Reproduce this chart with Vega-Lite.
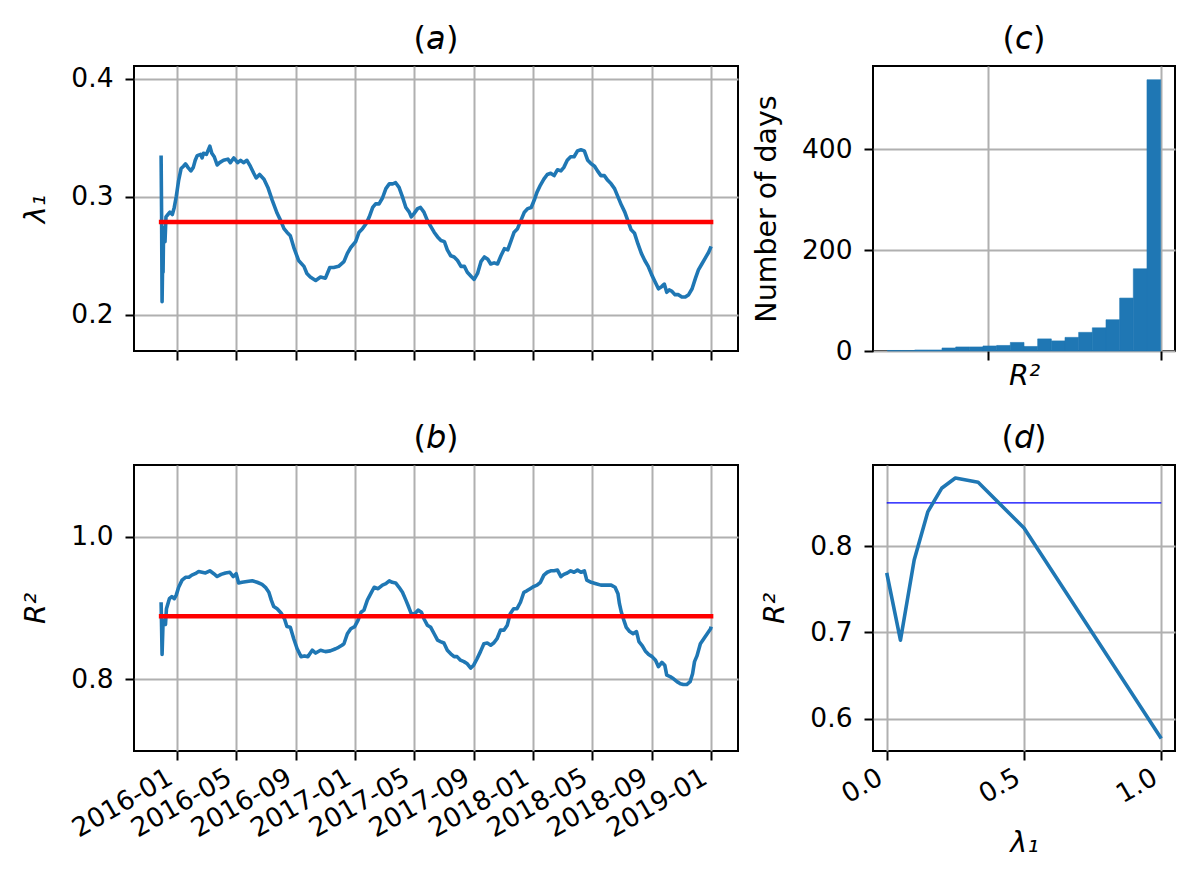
{
  "$schema": "https://vega.github.io/schema/vega-lite/v6.json",
  "padding": {"left": 20, "top": 21, "right": 5, "bottom": 5},
  "background": "white",
  "datasets": {
    "lam": [
      {"date": "2015-11-30", "value": 0.335},
      {"date": "2015-12-01", "value": 0.285},
      {"date": "2015-12-02", "value": 0.211},
      {"date": "2015-12-03", "value": 0.240},
      {"date": "2015-12-04", "value": 0.236},
      {"date": "2015-12-05", "value": 0.268},
      {"date": "2015-12-07", "value": 0.274},
      {"date": "2015-12-08", "value": 0.262},
      {"date": "2015-12-10", "value": 0.283},
      {"date": "2015-12-14", "value": 0.285},
      {"date": "2015-12-18", "value": 0.287},
      {"date": "2015-12-23", "value": 0.285},
      {"date": "2015-12-27", "value": 0.291},
      {"date": "2015-12-31", "value": 0.300},
      {"date": "2016-01-05", "value": 0.314},
      {"date": "2016-01-10", "value": 0.324},
      {"date": "2016-01-15", "value": 0.326},
      {"date": "2016-01-19", "value": 0.328},
      {"date": "2016-01-24", "value": 0.325},
      {"date": "2016-01-30", "value": 0.322},
      {"date": "2016-02-04", "value": 0.325},
      {"date": "2016-02-08", "value": 0.331},
      {"date": "2016-02-12", "value": 0.335},
      {"date": "2016-02-19", "value": 0.336},
      {"date": "2016-02-22", "value": 0.333},
      {"date": "2016-02-25", "value": 0.337},
      {"date": "2016-03-02", "value": 0.336},
      {"date": "2016-03-09", "value": 0.343},
      {"date": "2016-03-13", "value": 0.337},
      {"date": "2016-03-18", "value": 0.334},
      {"date": "2016-03-24", "value": 0.327},
      {"date": "2016-03-29", "value": 0.329},
      {"date": "2016-04-06", "value": 0.331},
      {"date": "2016-04-15", "value": 0.332},
      {"date": "2016-04-20", "value": 0.329},
      {"date": "2016-04-27", "value": 0.333},
      {"date": "2016-05-05", "value": 0.329},
      {"date": "2016-05-11", "value": 0.331},
      {"date": "2016-05-17", "value": 0.329},
      {"date": "2016-05-24", "value": 0.331},
      {"date": "2016-05-31", "value": 0.326},
      {"date": "2016-06-07", "value": 0.320},
      {"date": "2016-06-12", "value": 0.316},
      {"date": "2016-06-19", "value": 0.319},
      {"date": "2016-06-28", "value": 0.315},
      {"date": "2016-07-06", "value": 0.308},
      {"date": "2016-07-15", "value": 0.297},
      {"date": "2016-07-25", "value": 0.286},
      {"date": "2016-08-01", "value": 0.280},
      {"date": "2016-08-08", "value": 0.273},
      {"date": "2016-08-14", "value": 0.270},
      {"date": "2016-08-21", "value": 0.267},
      {"date": "2016-08-29", "value": 0.256},
      {"date": "2016-09-07", "value": 0.246},
      {"date": "2016-09-18", "value": 0.241},
      {"date": "2016-09-24", "value": 0.235},
      {"date": "2016-10-01", "value": 0.232},
      {"date": "2016-10-12", "value": 0.229},
      {"date": "2016-10-22", "value": 0.232},
      {"date": "2016-11-01", "value": 0.231},
      {"date": "2016-11-10", "value": 0.240},
      {"date": "2016-11-18", "value": 0.240},
      {"date": "2016-11-28", "value": 0.241},
      {"date": "2016-12-09", "value": 0.245},
      {"date": "2016-12-16", "value": 0.252},
      {"date": "2016-12-23", "value": 0.257},
      {"date": "2017-01-02", "value": 0.262},
      {"date": "2017-01-09", "value": 0.270},
      {"date": "2017-01-16", "value": 0.273},
      {"date": "2017-01-23", "value": 0.277},
      {"date": "2017-01-30", "value": 0.283},
      {"date": "2017-02-06", "value": 0.291},
      {"date": "2017-02-12", "value": 0.294},
      {"date": "2017-02-19", "value": 0.294},
      {"date": "2017-02-26", "value": 0.299},
      {"date": "2017-03-05", "value": 0.307},
      {"date": "2017-03-12", "value": 0.311},
      {"date": "2017-03-19", "value": 0.311},
      {"date": "2017-03-25", "value": 0.312},
      {"date": "2017-04-01", "value": 0.308},
      {"date": "2017-04-08", "value": 0.300},
      {"date": "2017-04-15", "value": 0.291},
      {"date": "2017-04-22", "value": 0.287},
      {"date": "2017-04-26", "value": 0.283},
      {"date": "2017-05-02", "value": 0.286},
      {"date": "2017-05-09", "value": 0.290},
      {"date": "2017-05-15", "value": 0.291},
      {"date": "2017-05-22", "value": 0.287},
      {"date": "2017-05-29", "value": 0.280},
      {"date": "2017-06-05", "value": 0.275},
      {"date": "2017-06-12", "value": 0.270},
      {"date": "2017-06-19", "value": 0.266},
      {"date": "2017-06-26", "value": 0.263},
      {"date": "2017-07-03", "value": 0.262},
      {"date": "2017-07-09", "value": 0.255},
      {"date": "2017-07-16", "value": 0.250},
      {"date": "2017-07-23", "value": 0.249},
      {"date": "2017-07-30", "value": 0.246},
      {"date": "2017-08-06", "value": 0.241},
      {"date": "2017-08-13", "value": 0.241},
      {"date": "2017-08-19", "value": 0.236},
      {"date": "2017-08-28", "value": 0.232},
      {"date": "2017-09-02", "value": 0.230},
      {"date": "2017-09-09", "value": 0.235},
      {"date": "2017-09-16", "value": 0.245},
      {"date": "2017-09-23", "value": 0.249},
      {"date": "2017-09-30", "value": 0.247},
      {"date": "2017-10-06", "value": 0.243},
      {"date": "2017-10-13", "value": 0.244},
      {"date": "2017-10-20", "value": 0.243},
      {"date": "2017-10-27", "value": 0.250},
      {"date": "2017-11-03", "value": 0.256},
      {"date": "2017-11-10", "value": 0.255},
      {"date": "2017-11-17", "value": 0.263},
      {"date": "2017-11-23", "value": 0.270},
      {"date": "2017-11-30", "value": 0.273},
      {"date": "2017-12-07", "value": 0.280},
      {"date": "2017-12-14", "value": 0.287},
      {"date": "2017-12-21", "value": 0.290},
      {"date": "2017-12-28", "value": 0.291},
      {"date": "2018-01-04", "value": 0.298},
      {"date": "2018-01-09", "value": 0.304},
      {"date": "2018-01-16", "value": 0.310},
      {"date": "2018-01-23", "value": 0.315},
      {"date": "2018-01-30", "value": 0.319},
      {"date": "2018-02-06", "value": 0.320},
      {"date": "2018-02-13", "value": 0.318},
      {"date": "2018-02-20", "value": 0.323},
      {"date": "2018-02-27", "value": 0.322},
      {"date": "2018-03-05", "value": 0.325},
      {"date": "2018-03-12", "value": 0.331},
      {"date": "2018-03-19", "value": 0.334},
      {"date": "2018-03-26", "value": 0.334},
      {"date": "2018-04-02", "value": 0.339},
      {"date": "2018-04-09", "value": 0.340},
      {"date": "2018-04-16", "value": 0.339},
      {"date": "2018-04-23", "value": 0.331},
      {"date": "2018-04-30", "value": 0.328},
      {"date": "2018-05-07", "value": 0.326},
      {"date": "2018-05-13", "value": 0.322},
      {"date": "2018-05-20", "value": 0.318},
      {"date": "2018-05-27", "value": 0.318},
      {"date": "2018-06-03", "value": 0.314},
      {"date": "2018-06-10", "value": 0.311},
      {"date": "2018-06-17", "value": 0.307},
      {"date": "2018-06-24", "value": 0.300},
      {"date": "2018-07-01", "value": 0.293},
      {"date": "2018-07-08", "value": 0.287},
      {"date": "2018-07-15", "value": 0.279},
      {"date": "2018-07-21", "value": 0.272},
      {"date": "2018-07-28", "value": 0.269},
      {"date": "2018-08-04", "value": 0.260},
      {"date": "2018-08-11", "value": 0.252},
      {"date": "2018-08-18", "value": 0.246},
      {"date": "2018-08-25", "value": 0.241},
      {"date": "2018-09-01", "value": 0.234},
      {"date": "2018-09-08", "value": 0.228},
      {"date": "2018-09-15", "value": 0.222},
      {"date": "2018-09-22", "value": 0.224},
      {"date": "2018-09-27", "value": 0.226},
      {"date": "2018-10-02", "value": 0.219},
      {"date": "2018-10-07", "value": 0.221},
      {"date": "2018-10-12", "value": 0.220},
      {"date": "2018-10-19", "value": 0.217},
      {"date": "2018-10-26", "value": 0.217},
      {"date": "2018-11-02", "value": 0.215},
      {"date": "2018-11-09", "value": 0.215},
      {"date": "2018-11-16", "value": 0.217},
      {"date": "2018-11-23", "value": 0.222},
      {"date": "2018-11-30", "value": 0.231},
      {"date": "2018-12-06", "value": 0.238},
      {"date": "2018-12-13", "value": 0.243},
      {"date": "2018-12-20", "value": 0.248},
      {"date": "2018-12-27", "value": 0.253},
      {"date": "2019-01-01", "value": 0.258}
    ],
    "r2": [
      {"date": "2015-11-30", "value": 0.908},
      {"date": "2015-12-01", "value": 0.873},
      {"date": "2015-12-02", "value": 0.835},
      {"date": "2015-12-04", "value": 0.880},
      {"date": "2015-12-06", "value": 0.883},
      {"date": "2015-12-09", "value": 0.877},
      {"date": "2015-12-11", "value": 0.899},
      {"date": "2015-12-17", "value": 0.913},
      {"date": "2015-12-22", "value": 0.916},
      {"date": "2015-12-27", "value": 0.913},
      {"date": "2015-12-31", "value": 0.918},
      {"date": "2016-01-05", "value": 0.929},
      {"date": "2016-01-12", "value": 0.939},
      {"date": "2016-01-19", "value": 0.943},
      {"date": "2016-01-26", "value": 0.943},
      {"date": "2016-02-01", "value": 0.946},
      {"date": "2016-02-08", "value": 0.948},
      {"date": "2016-02-15", "value": 0.951},
      {"date": "2016-02-22", "value": 0.950},
      {"date": "2016-02-29", "value": 0.949},
      {"date": "2016-03-09", "value": 0.952},
      {"date": "2016-03-17", "value": 0.948},
      {"date": "2016-03-24", "value": 0.944},
      {"date": "2016-04-01", "value": 0.947},
      {"date": "2016-04-10", "value": 0.949},
      {"date": "2016-04-19", "value": 0.950},
      {"date": "2016-04-26", "value": 0.944},
      {"date": "2016-05-02", "value": 0.948},
      {"date": "2016-05-07", "value": 0.935},
      {"date": "2016-05-14", "value": 0.936},
      {"date": "2016-05-24", "value": 0.937},
      {"date": "2016-06-04", "value": 0.938},
      {"date": "2016-06-14", "value": 0.936},
      {"date": "2016-06-24", "value": 0.933},
      {"date": "2016-07-01", "value": 0.929},
      {"date": "2016-07-08", "value": 0.922},
      {"date": "2016-07-13", "value": 0.911},
      {"date": "2016-07-18", "value": 0.902},
      {"date": "2016-07-25", "value": 0.899},
      {"date": "2016-08-02", "value": 0.893},
      {"date": "2016-08-09", "value": 0.885},
      {"date": "2016-08-14", "value": 0.874},
      {"date": "2016-08-21", "value": 0.873},
      {"date": "2016-08-28", "value": 0.857},
      {"date": "2016-09-04", "value": 0.843},
      {"date": "2016-09-12", "value": 0.832},
      {"date": "2016-09-19", "value": 0.833},
      {"date": "2016-09-26", "value": 0.832},
      {"date": "2016-10-05", "value": 0.841},
      {"date": "2016-10-12", "value": 0.837},
      {"date": "2016-10-22", "value": 0.841},
      {"date": "2016-11-01", "value": 0.839},
      {"date": "2016-11-11", "value": 0.840},
      {"date": "2016-11-22", "value": 0.843},
      {"date": "2016-11-28", "value": 0.845},
      {"date": "2016-12-05", "value": 0.848},
      {"date": "2016-12-09", "value": 0.850},
      {"date": "2016-12-16", "value": 0.864},
      {"date": "2016-12-23", "value": 0.871},
      {"date": "2016-12-31", "value": 0.874},
      {"date": "2017-01-07", "value": 0.883},
      {"date": "2017-01-13", "value": 0.894},
      {"date": "2017-01-19", "value": 0.897},
      {"date": "2017-01-26", "value": 0.911},
      {"date": "2017-02-02", "value": 0.920},
      {"date": "2017-02-09", "value": 0.929},
      {"date": "2017-02-17", "value": 0.927},
      {"date": "2017-02-26", "value": 0.932},
      {"date": "2017-03-05", "value": 0.934},
      {"date": "2017-03-12", "value": 0.938},
      {"date": "2017-03-18", "value": 0.936},
      {"date": "2017-03-25", "value": 0.935},
      {"date": "2017-04-01", "value": 0.929},
      {"date": "2017-04-08", "value": 0.922},
      {"date": "2017-04-15", "value": 0.911},
      {"date": "2017-04-21", "value": 0.901},
      {"date": "2017-04-26", "value": 0.892},
      {"date": "2017-05-03", "value": 0.892},
      {"date": "2017-05-10", "value": 0.897},
      {"date": "2017-05-17", "value": 0.894},
      {"date": "2017-05-22", "value": 0.885},
      {"date": "2017-05-29", "value": 0.876},
      {"date": "2017-06-05", "value": 0.873},
      {"date": "2017-06-12", "value": 0.864},
      {"date": "2017-06-19", "value": 0.855},
      {"date": "2017-06-25", "value": 0.853},
      {"date": "2017-07-02", "value": 0.851},
      {"date": "2017-07-09", "value": 0.841},
      {"date": "2017-07-16", "value": 0.836},
      {"date": "2017-07-23", "value": 0.832},
      {"date": "2017-07-29", "value": 0.832},
      {"date": "2017-08-05", "value": 0.827},
      {"date": "2017-08-12", "value": 0.825},
      {"date": "2017-08-19", "value": 0.822},
      {"date": "2017-08-26", "value": 0.816},
      {"date": "2017-09-01", "value": 0.820},
      {"date": "2017-09-08", "value": 0.829},
      {"date": "2017-09-15", "value": 0.839},
      {"date": "2017-09-22", "value": 0.850},
      {"date": "2017-09-29", "value": 0.851},
      {"date": "2017-10-06", "value": 0.848},
      {"date": "2017-10-12", "value": 0.851},
      {"date": "2017-10-19", "value": 0.857},
      {"date": "2017-10-26", "value": 0.869},
      {"date": "2017-11-02", "value": 0.869},
      {"date": "2017-11-09", "value": 0.876},
      {"date": "2017-11-15", "value": 0.892},
      {"date": "2017-11-22", "value": 0.899},
      {"date": "2017-11-29", "value": 0.899},
      {"date": "2017-12-06", "value": 0.908},
      {"date": "2017-12-13", "value": 0.922},
      {"date": "2017-12-19", "value": 0.924},
      {"date": "2017-12-26", "value": 0.927},
      {"date": "2018-01-02", "value": 0.930},
      {"date": "2018-01-09", "value": 0.932},
      {"date": "2018-01-16", "value": 0.936},
      {"date": "2018-01-23", "value": 0.946},
      {"date": "2018-01-30", "value": 0.950},
      {"date": "2018-02-06", "value": 0.952},
      {"date": "2018-02-13", "value": 0.952},
      {"date": "2018-02-20", "value": 0.953},
      {"date": "2018-02-27", "value": 0.944},
      {"date": "2018-03-05", "value": 0.947},
      {"date": "2018-03-12", "value": 0.949},
      {"date": "2018-03-19", "value": 0.952},
      {"date": "2018-03-26", "value": 0.950},
      {"date": "2018-04-02", "value": 0.953},
      {"date": "2018-04-09", "value": 0.950},
      {"date": "2018-04-16", "value": 0.952},
      {"date": "2018-04-21", "value": 0.939},
      {"date": "2018-04-30", "value": 0.936},
      {"date": "2018-05-10", "value": 0.934},
      {"date": "2018-05-20", "value": 0.932},
      {"date": "2018-05-31", "value": 0.932},
      {"date": "2018-06-10", "value": 0.932},
      {"date": "2018-06-18", "value": 0.929},
      {"date": "2018-06-24", "value": 0.920},
      {"date": "2018-06-27", "value": 0.906},
      {"date": "2018-07-01", "value": 0.894},
      {"date": "2018-07-06", "value": 0.883},
      {"date": "2018-07-11", "value": 0.873},
      {"date": "2018-07-18", "value": 0.867},
      {"date": "2018-07-25", "value": 0.864},
      {"date": "2018-08-01", "value": 0.867},
      {"date": "2018-08-06", "value": 0.853},
      {"date": "2018-08-13", "value": 0.847},
      {"date": "2018-08-19", "value": 0.840},
      {"date": "2018-08-26", "value": 0.835},
      {"date": "2018-09-02", "value": 0.832},
      {"date": "2018-09-09", "value": 0.827},
      {"date": "2018-09-15", "value": 0.818},
      {"date": "2018-09-22", "value": 0.824},
      {"date": "2018-09-28", "value": 0.820},
      {"date": "2018-10-02", "value": 0.806},
      {"date": "2018-10-09", "value": 0.804},
      {"date": "2018-10-16", "value": 0.801},
      {"date": "2018-10-23", "value": 0.797},
      {"date": "2018-10-30", "value": 0.794},
      {"date": "2018-11-05", "value": 0.793},
      {"date": "2018-11-12", "value": 0.793},
      {"date": "2018-11-19", "value": 0.797},
      {"date": "2018-11-24", "value": 0.808},
      {"date": "2018-11-28", "value": 0.825},
      {"date": "2018-12-03", "value": 0.833},
      {"date": "2018-12-10", "value": 0.850},
      {"date": "2018-12-17", "value": 0.857},
      {"date": "2018-12-24", "value": 0.864},
      {"date": "2018-12-31", "value": 0.871},
      {"date": "2019-01-01", "value": 0.874}
    ],
    "means": [
      {"panel": "a", "start": "2015-11-30", "end": "2019-01-01", "value": 0.2786},
      {"panel": "b", "start": "2015-11-30", "end": "2019-01-01", "value": 0.8884}
    ],
    "hist": [
      {"bin_start": 0.2079, "bin_end": 0.2475, "count": 1},
      {"bin_start": 0.2475, "bin_end": 0.2871, "count": 1},
      {"bin_start": 0.2871, "bin_end": 0.3267, "count": 2},
      {"bin_start": 0.3267, "bin_end": 0.3663, "count": 2},
      {"bin_start": 0.3663, "bin_end": 0.4059, "count": 6},
      {"bin_start": 0.4059, "bin_end": 0.4455, "count": 8},
      {"bin_start": 0.4455, "bin_end": 0.4851, "count": 8},
      {"bin_start": 0.4851, "bin_end": 0.5248, "count": 10},
      {"bin_start": 0.5248, "bin_end": 0.5644, "count": 11},
      {"bin_start": 0.5644, "bin_end": 0.6040, "count": 17},
      {"bin_start": 0.6040, "bin_end": 0.6436, "count": 9},
      {"bin_start": 0.6436, "bin_end": 0.6832, "count": 24},
      {"bin_start": 0.6832, "bin_end": 0.7228, "count": 20},
      {"bin_start": 0.7228, "bin_end": 0.7624, "count": 27},
      {"bin_start": 0.7624, "bin_end": 0.8020, "count": 37},
      {"bin_start": 0.8020, "bin_end": 0.8416, "count": 46},
      {"bin_start": 0.8416, "bin_end": 0.8812, "count": 62},
      {"bin_start": 0.8812, "bin_end": 0.9208, "count": 105},
      {"bin_start": 0.9208, "bin_end": 0.9604, "count": 163},
      {"bin_start": 0.9604, "bin_end": 1.0000, "count": 538}
    ],
    "curve": [
      {"lambda": 0.0, "r2": 0.769},
      {"lambda": 0.05, "r2": 0.691},
      {"lambda": 0.1, "r2": 0.784},
      {"lambda": 0.15, "r2": 0.840},
      {"lambda": 0.2, "r2": 0.867},
      {"lambda": 0.25, "r2": 0.879},
      {"lambda": 0.333, "r2": 0.874},
      {"lambda": 0.5, "r2": 0.821},
      {"lambda": 1.0, "r2": 0.577}
    ],
    "ref": [
      {"start": 0.0, "end": 1.0, "value": 0.85}
    ]
  },
  "columns": 2,
  "spacing": {"row": 114, "column": 135},
  "bounds": "flush",
  "concat": [
    {
      "title": "(𝘢)",
      "width": 604,
      "height": 285,
      "layer": [
        {
          "data": {"name": "lam"},
          "mark": {"type": "line", "color": "#1f77b4", "strokeWidth": 3.6, "strokeJoin": "round"},
          "encoding": {
            "x": {
              "field": "date", "type": "temporal",
              "scale": {"type": "utc", "domain": [{"year": 2015, "month": 10, "date": 5, "hours": 10, "utc": true}, {"year": 2019, "month": 2, "date": 25, "hours": 4, "utc": true}]},
              "axis": {"title": null, "labels": false, "values": [
                {"year": 2016, "month": 1, "date": 1, "utc": true}, {"year": 2016, "month": 5, "date": 1, "utc": true}, {"year": 2016, "month": 9, "date": 1, "utc": true},
                {"year": 2017, "month": 1, "date": 1, "utc": true}, {"year": 2017, "month": 5, "date": 1, "utc": true}, {"year": 2017, "month": 9, "date": 1, "utc": true},
                {"year": 2018, "month": 1, "date": 1, "utc": true}, {"year": 2018, "month": 5, "date": 1, "utc": true}, {"year": 2018, "month": 9, "date": 1, "utc": true},
                {"year": 2019, "month": 1, "date": 1, "utc": true}]}
            },
            "y": {
              "field": "value", "type": "quantitative",
              "scale": {"domain": [0.1692, 0.411], "nice": false, "zero": false},
              "axis": {"title": "λ₁", "titleFontStyle": "italic", "values": [0.2, 0.3, 0.4], "format": ".1f"}
            }
          }
        },
        {
          "data": {"name": "means"},
          "transform": [{"filter": "datum.panel == 'a'"}],
          "mark": {"type": "rule", "color": "#ff0000", "strokeWidth": 4.5, "strokeCap": "square"},
          "encoding": {
            "x": {"field": "start", "type": "temporal"},
            "x2": {"field": "end"},
            "y": {"field": "value", "type": "quantitative"}
          }
        }
      ]
    },
    {
      "title": "(𝘤)",
      "width": 302,
      "height": 285,
      "data": {"name": "hist"},
      "mark": {"type": "bar", "color": "#1f77b4", "stroke": "#1f77b4", "strokeWidth": 0.6},
      "encoding": {
        "x": {
          "field": "bin_start", "type": "quantitative",
          "scale": {"domain": [0.1663, 1.0416], "nice": false, "zero": false},
          "axis": {"title": "R²", "titleFontStyle": "italic", "labels": false, "titlePadding": 0, "values": [0.5, 1.0]}
        },
        "x2": {"field": "bin_end"},
        "y": {
          "field": "count", "type": "quantitative",
          "scale": {"domain": [0, 565.3], "nice": false},
          "axis": {"title": "Number of days", "titleFontStyle": "normal", "values": [0, 200, 400]}
        },
        "y2": {"datum": 0}
      }
    },
    {
      "title": "(𝘣)",
      "width": 604,
      "height": 286,
      "layer": [
        {
          "data": {"name": "r2"},
          "mark": {"type": "line", "color": "#1f77b4", "strokeWidth": 3.6, "strokeJoin": "round"},
          "encoding": {
            "x": {
              "field": "date", "type": "temporal",
              "scale": {"type": "utc", "domain": [{"year": 2015, "month": 10, "date": 5, "hours": 10, "utc": true}, {"year": 2019, "month": 2, "date": 25, "hours": 4, "utc": true}]},
              "axis": {"title": null, "format": "%Y-%m", "labelAngle": -30, "labelAlign": "right", "labelBaseline": "top", "labelOffset": -13, "labelPadding": 4, "values": [
                {"year": 2016, "month": 1, "date": 1, "utc": true}, {"year": 2016, "month": 5, "date": 1, "utc": true}, {"year": 2016, "month": 9, "date": 1, "utc": true},
                {"year": 2017, "month": 1, "date": 1, "utc": true}, {"year": 2017, "month": 5, "date": 1, "utc": true}, {"year": 2017, "month": 9, "date": 1, "utc": true},
                {"year": 2018, "month": 1, "date": 1, "utc": true}, {"year": 2018, "month": 5, "date": 1, "utc": true}, {"year": 2018, "month": 9, "date": 1, "utc": true},
                {"year": 2019, "month": 1, "date": 1, "utc": true}]}
            },
            "y": {
              "field": "value", "type": "quantitative",
              "scale": {"domain": [0.7, 1.1], "nice": false, "zero": false},
              "axis": {"title": "R²", "titleFontStyle": "italic", "values": [0.8, 1.0], "format": ".1f"}
            }
          }
        },
        {
          "data": {"name": "means"},
          "transform": [{"filter": "datum.panel == 'b'"}],
          "mark": {"type": "rule", "color": "#ff0000", "strokeWidth": 4.5, "strokeCap": "square"},
          "encoding": {
            "x": {"field": "start", "type": "temporal"},
            "x2": {"field": "end"},
            "y": {"field": "value", "type": "quantitative"}
          }
        }
      ]
    },
    {
      "title": "(𝘥)",
      "width": 302,
      "height": 286,
      "layer": [
        {
          "data": {"name": "ref"},
          "mark": {"type": "rule", "color": "#0000ff", "strokeWidth": 1.3},
          "encoding": {
            "x": {"field": "start", "type": "quantitative"},
            "x2": {"field": "end"},
            "y": {"field": "value", "type": "quantitative"}
          }
        },
        {
          "data": {"name": "curve"},
          "mark": {"type": "line", "color": "#1f77b4", "strokeWidth": 3.6, "strokeJoin": "round"},
          "encoding": {
            "x": {
              "field": "lambda", "type": "quantitative",
              "scale": {"domain": [-0.05, 1.05], "nice": false, "zero": false},
              "axis": {"title": "λ₁", "titleFontStyle": "italic", "values": [0, 0.5, 1.0], "format": ".1f", "labelAngle": -30, "labelAlign": "right", "labelBaseline": "top", "labelOffset": -13, "labelPadding": 4}
            },
            "y": {
              "field": "r2", "type": "quantitative",
              "scale": {"domain": [0.5626, 0.894], "nice": false, "zero": false},
              "axis": {"title": "R²", "titleFontStyle": "italic", "values": [0.6, 0.7, 0.8], "format": ".1f"}
            }
          }
        }
      ]
    }
  ],
  "resolve": {"scale": {"x": "independent", "y": "independent"}},
  "config": {
    "font": "DejaVu Sans",
    "view": {"stroke": "black", "strokeWidth": 2},
    "axis": {
      "domain": false,
      "grid": true,
      "gridColor": "#b0b0b0",
      "gridWidth": 2,
      "gridOpacity": 1,
      "tickColor": "black",
      "tickWidth": 2,
      "tickSize": 9,
      "labelFontSize": 26.5,
      "labelColor": "black",
      "labelPadding": 12,
      "labelFlush": false,
      "labelOverlap": false,
      "titleFontSize": 28.5,
      "titleFontWeight": "normal",
      "titleColor": "black",
      "titlePadding": 20
    },
    "title": {"fontSize": 32, "fontWeight": "normal", "color": "black", "anchor": "middle", "baseline": "alphabetic", "offset": 10}
  }
}
